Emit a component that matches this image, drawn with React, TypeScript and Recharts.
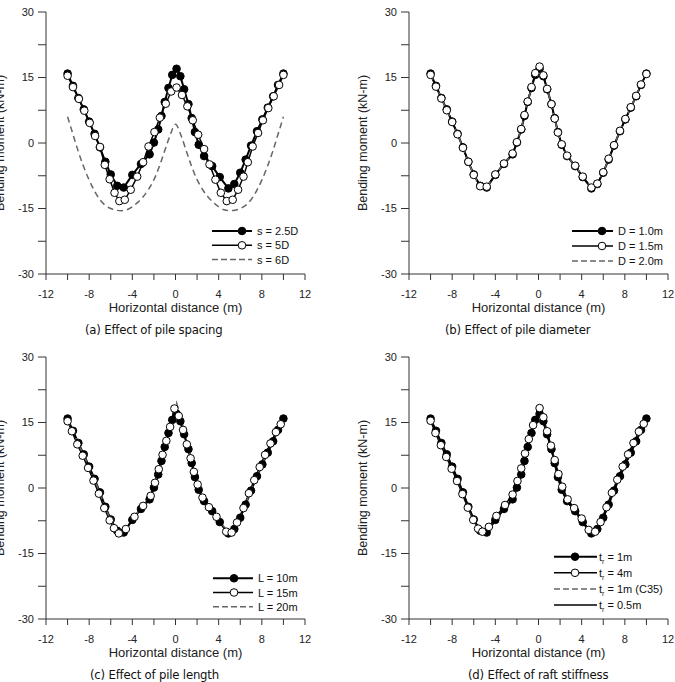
import React from "react";
import { LineChart, Line, XAxis, YAxis } from "recharts";

const FONT = '"Liberation Sans", Arial, sans-serif';
const CAPTION_FONT = '"Liberation Sans Narrow", "DejaVu Sans Condensed", "Liberation Sans", sans-serif';

const X_TICKS = [-12, -10, -8, -6, -4, -2, 0, 2, 4, 6, 8, 10, 12];
const Y_TICKS = [-30, -22.5, -15, -7.5, 0, 7.5, 15, 22.5, 30];

// reference case (s = 2.5D, D = 1.0m, L = 10m, t_r = 1m)
const BASE_X = [-10, -9.5, -9, -8.5, -8, -7.5, -7, -6.5, -6, -5.4, -4.8, -4, -3.2, -2.4, -2, -1.6, -1.3, -1, -0.65, -0.3, 0.1, 0.45, 0.8, 1.2, 1.5, 1.8, 2.15, 2.65, 3.4, 4.1, 4.9, 5.45, 6, 6.5, 7, 7.55, 8.05, 8.55, 9.05, 9.5, 10];
const BASE_M = [15.9, 13.1, 10.3, 7.7, 4.9, 2.1, -1.0, -4.3, -7.2, -9.8, -10.2, -7.3, -4.8, -2.6, 0.1, 3.1, 6.2, 9.4, 12.6, 15.6, 17.0, 15.3, 12.3, 8.9, 5.7, 2.5, -0.4, -3.0, -5.3, -7.8, -10.4, -9.4, -6.8, -3.8, -0.6, 2.7, 5.4, 8.1, 10.7, 13.3, 15.9];

// (a) pile spacing
const S5_X = [-10, -9.5, -8.95, -8.45, -7.95, -7.45, -7.0, -6.55, -6.1, -5.65, -5.2, -4.7, -4.15, -3.55, -3.0, -2.5, -1.95, -1.45, -0.9, -0.4, 0.1, 0.6, 1.1, 1.6, 2.1, 2.65, 3.15, 3.7, 4.2, 4.75, 5.3, 5.8, 6.3, 6.7, 7.15, 7.65, 8.1, 8.6, 9.1, 9.6, 10];
const S5_M = [15.4, 12.8, 10.1, 7.4, 4.6, 1.6, -0.9, -5.0, -8.3, -11.4, -13.3, -13.0, -10.7, -7.7, -4.4, -0.8, 2.5, 5.8, 9.0, 11.8, 12.7, 11.0, 8.4, 5.2, 1.9, -1.4, -4.9, -8.4, -11.4, -13.3, -13.0, -10.7, -7.7, -4.4, -0.8, 2.3, 5.2, 8.0, 10.7, 13.3, 15.6];
const S6_X = [-10, -9.5, -9, -8.5, -8, -7.5, -7, -6.5, -6, -5.5, -5, -4.5, -4, -3.5, -3, -2.5, -2, -1.5, -1, -0.5, 0, 0.5, 1, 1.5, 2, 2.5, 3, 3.5, 4, 4.5, 5, 5.5, 6, 6.5, 7, 7.5, 8, 8.5, 9, 9.5, 10];
const S6_M = [6.0, 2.0, -2.0, -5.5, -8.5, -11.0, -13.0, -14.3, -15.0, -15.4, -15.5, -15.3, -14.6, -13.6, -12.3, -10.6, -8.4, -5.4, -1.8, 1.8, 4.3, 1.8, -1.8, -5.4, -8.4, -10.6, -12.3, -13.6, -14.6, -15.3, -15.5, -15.4, -15.0, -14.3, -13.0, -11.0, -8.5, -5.5, -2.0, 2.0, 6.0];

// (b) pile diameter
const D15_M = [15.6, 12.9, 10.2, 7.5, 4.8, 2.0, -1.1, -4.3, -7.3, -9.9, -10.0, -7.2, -4.7, -2.4, 0.2, 3.2, 6.4, 9.5, 12.8, 16.0, 17.5, 15.5, 12.4, 8.9, 5.6, 2.4, -0.3, -2.9, -5.2, -7.7, -10.2, -9.3, -6.7, -3.6, -0.5, 2.8, 5.5, 8.2, 10.8, 13.4, 15.8];
const D20_M = [15.8, 13.0, 10.2, 7.6, 4.8, 2.0, -1.1, -4.3, -7.3, -9.9, -10.1, -7.2, -4.7, -2.5, 0.2, 3.2, 6.3, 9.5, 12.7, 15.8, 17.3, 15.4, 12.4, 8.9, 5.6, 2.4, -0.4, -3.0, -5.2, -7.7, -10.3, -9.3, -6.7, -3.7, -0.5, 2.8, 5.5, 8.2, 10.8, 13.4, 15.9];

// (c) pile length
const L15_X = [-10, -9.6, -9.1, -8.6, -8.1, -7.6, -7.1, -6.6, -6.1, -5.7, -5.25, -4.6, -3.8, -3.0, -2.3, -1.9, -1.55, -1.2, -0.85, -0.5, -0.1, 0.3, 0.7, 1.05, 1.4, 1.7, 2.05, 2.5, 3.1, 3.8, 4.7, 5.2, 5.7, 6.3, 6.8, 7.3, 7.8, 8.3, 8.8, 9.3, 9.75];
const L15_M = [15.3, 13.0, 10.0, 7.4, 4.6, 1.7, -1.3, -4.6, -7.4, -9.2, -10.4, -9.4, -6.6, -4.1, -1.8, 1.2, 4.3, 7.6, 10.8, 14.0, 18.2, 16.5, 13.3, 10.0, 6.8, 3.7, 0.8, -2.2, -4.4, -6.6, -10.0, -10.2, -7.9, -4.6, -1.2, 1.8, 4.8, 7.6, 10.2, 12.8, 14.6];
const L20_M = [15.6, 12.9, 10.1, 7.5, 4.7, 1.9, -1.2, -4.5, -7.4, -9.9, -10.1, -7.1, -4.6, -2.3, 0.5, 3.6, 6.8, 10.0, 13.3, 16.6, 19.5, 16.5, 13.2, 9.6, 6.2, 3.0, 0.1, -2.6, -5.0, -7.6, -10.2, -9.3, -6.6, -3.6, -0.4, 2.9, 5.6, 8.3, 10.9, 13.5, 15.8];

// (d) raft stiffness
const T4_X = [-10, -9.55, -9.05, -8.55, -8.05, -7.55, -7.05, -6.55, -6.05, -5.6, -5.2, -4.6, -3.9, -3.1, -2.4, -1.95, -1.6, -1.25, -0.9, -0.5, 0.1, 0.45, 0.8, 1.15, 1.5, 1.85, 2.2, 2.7, 3.3, 4.0, 4.65, 5.25, 5.75, 6.3, 6.8, 7.3, 7.8, 8.3, 8.8, 9.3, 9.75];
const T4_M = [15.4, 12.6, 9.8, 7.1, 4.4, 1.6, -1.4, -4.5, -7.3, -9.3, -10.0, -8.9, -6.4, -3.9, -1.5, 1.6, 4.5, 7.9, 11.2, 14.4, 18.3, 16.2, 13.0, 9.7, 6.4, 3.2, 0.3, -2.6, -4.6, -7.0, -9.6, -10.0, -7.8, -4.4, -1.1, 1.9, 4.9, 7.7, 10.3, 12.9, 14.7];
const C35_M = [15.7, 12.9, 10.2, 7.6, 4.8, 2.0, -1.1, -4.4, -7.3, -9.9, -10.4, -7.4, -4.9, -2.6, 0.1, 3.1, 6.2, 9.4, 12.6, 15.5, 16.8, 15.1, 12.1, 8.8, 5.6, 2.4, -0.5, -3.1, -5.4, -7.9, -10.5, -9.5, -6.9, -3.9, -0.7, 2.6, 5.3, 8.0, 10.6, 13.2, 15.8];
const T05_M = [15.8, 13.0, 10.3, 7.6, 4.9, 2.0, -1.0, -4.2, -7.1, -9.7, -10.3, -7.4, -4.9, -2.7, 0.0, 3.0, 6.1, 9.3, 12.5, 15.4, 16.6, 15.0, 12.1, 8.8, 5.7, 2.5, -0.5, -3.1, -5.4, -7.9, -10.6, -9.5, -6.8, -3.8, -0.6, 2.7, 5.4, 8.1, 10.7, 13.3, 15.9];

const SPACING_LABELS = ["s = 2.5D", "s = 5D", "s = 6D"];
const DIAMETER_LABELS = ["D = 1.0m", "D = 1.5m", "D = 2.0m"];
const LENGTH_LABELS = ["L = 10m", "L = 15m", "L = 20m"];
const RAFT_LABELS = ["1m", "4m", "1m (C35)", "0.5m"];

// extra room left of the y axis so the rotated axis title is not clipped
const PAD = 20;
const W = 340 + PAD;
const H = 345;

type Kind = "filled" | "open" | "dashed" | "solid";
type Series = { label: React.ReactNode; kind: Kind; xs: number[]; ms: number[]; smooth?: boolean };
type LegendBox = { x0: number; x1: number; markerX: number; textX: number; y0: number; gap: number };

const toPoints = (xs: number[], ms: number[]) => xs.map((x, i) => ({ x, m: ms[i] }));

const raftLabel = (v: string) => (
  <>
    t<tspan fontSize={7} dy={3}>r</tspan>
    <tspan dy={-3}>{" = " + v}</tspan>
  </>
);

function seriesLine(s: Series, i: number) {
  const common = {
    key: i,
    data: toPoints(s.xs, s.ms),
    dataKey: "m",
    isAnimationActive: false,
    activeDot: false as const,
    type: (s.smooth ? "monotone" : "linear") as "monotone" | "linear",
  };
  if (s.kind === "filled")
    return <Line {...common} stroke="#000" strokeWidth={2} dot={{ r: 3.8, fill: "#000", stroke: "#000", strokeWidth: 1 }} />;
  if (s.kind === "open")
    return <Line {...common} stroke="#000" strokeWidth={1.5} dot={{ r: 3.8, fill: "#fff", stroke: "#000", strokeWidth: 1 }} />;
  if (s.kind === "dashed")
    return <Line {...common} stroke="#666" strokeWidth={1.5} strokeDasharray="6 4" dot={false} />;
  return <Line {...common} stroke="#000" strokeWidth={1.4} dot={false} />;
}

function Legend({ series, box }: { series: Series[]; box: LegendBox }) {
  return (
    <svg width={W} height={H} style={{ position: "absolute", left: 0, top: 0, pointerEvents: "none" }}>
      <g transform={`translate(${PAD},0)`}>
        {series.map((s, i) => {
          const y = box.y0 + i * box.gap;
          const dashed = s.kind === "dashed";
          return (
            <g key={i}>
              <line
                x1={box.x0}
                x2={box.x1}
                y1={y}
                y2={y}
                stroke={dashed ? "#666" : "#000"}
                strokeWidth={s.kind === "filled" ? 2 : 1.5}
                strokeDasharray={dashed ? "6 3" : undefined}
              />
              {(s.kind === "filled" || s.kind === "open") && (
                <circle cx={box.markerX} cy={y} r={3.8} fill={s.kind === "filled" ? "#000" : "#fff"} stroke="#000" strokeWidth={1} />
              )}
              <text x={box.textX} y={y + 4} fontSize={11} fontFamily={FONT} fill="#111">
                {s.label}
              </text>
            </g>
          );
        })}
      </g>
    </svg>
  );
}

function Panel(props: { left: number; top: number; caption: string; captionX: number; series: Series[]; legend: LegendBox }) {
  const { left, top, caption, captionX, series, legend } = props;
  const tick = { fontSize: 11, fill: "#222", fontFamily: FONT };
  return (
    <div style={{ position: "absolute", left: left - PAD, top, width: W, height: H }}>
      <LineChart width={W} height={H} margin={{ top: 12, right: 35, bottom: 31, left: PAD }}>
        <XAxis
          dataKey="x"
          type="number"
          domain={[-12, 12]}
          ticks={X_TICKS}
          interval={0}
          allowDataOverflow
          height={40}
          tickSize={6}
          tickMargin={10}
          stroke="#333"
          tick={tick}
          tickFormatter={(v: number) => (v % 4 === 0 ? String(v) : "")}
          label={{ value: "Horizontal distance (m)", position: "insideBottom", offset: 2, fontSize: 13, fill: "#222", fontFamily: FONT }}
        />
        <YAxis
          type="number"
          domain={[-30, 30]}
          ticks={Y_TICKS}
          interval={0}
          allowDataOverflow
          width={46}
          tickSize={8}
          tickMargin={4}
          stroke="#333"
          tick={tick}
          tickFormatter={(v: number) => (v % 15 === 0 ? String(v) : "")}
          label={{
            value: "Bending moment (kN-m)",
            angle: -90,
            position: "insideLeft",
            offset: 0,
            style: { textAnchor: "middle" },
            fontSize: 12.5,
            fill: "#222",
            fontFamily: FONT,
          }}
        />
        <XAxis xAxisId="top" orientation="top" type="number" domain={[-12, 12]} height={0} tick={false} tickLine={false} stroke="#999" />
        <YAxis yAxisId="right" orientation="right" type="number" domain={[-30, 30]} width={0} tick={false} tickLine={false} stroke="#999" />
        {series.map(seriesLine)}
      </LineChart>
      <Legend series={series} box={legend} />
      <div
        style={{
          position: "absolute",
          left: PAD + captionX,
          top: 322,
          fontFamily: CAPTION_FONT,
          fontSize: 13,
          lineHeight: "16px",
          wordSpacing: 0,
          letterSpacing: -0.2,
          whiteSpace: "nowrap",
          color: "#111",
        }}
      >
        {caption}
      </div>
    </div>
  );
}

const spacingSeries: Series[] = [
  { label: SPACING_LABELS[0], kind: "filled", xs: BASE_X, ms: BASE_M },
  { label: SPACING_LABELS[1], kind: "open", xs: S5_X, ms: S5_M },
  { label: SPACING_LABELS[2], kind: "dashed", xs: S6_X, ms: S6_M, smooth: true },
];
const diameterSeries: Series[] = [
  { label: DIAMETER_LABELS[0], kind: "filled", xs: BASE_X, ms: BASE_M },
  { label: DIAMETER_LABELS[1], kind: "open", xs: BASE_X, ms: D15_M },
  { label: DIAMETER_LABELS[2], kind: "dashed", xs: BASE_X, ms: D20_M },
];
const lengthSeries: Series[] = [
  { label: LENGTH_LABELS[0], kind: "filled", xs: BASE_X, ms: BASE_M },
  { label: LENGTH_LABELS[1], kind: "open", xs: L15_X, ms: L15_M },
  { label: LENGTH_LABELS[2], kind: "dashed", xs: BASE_X, ms: L20_M },
];
const raftSeries: Series[] = [
  { label: raftLabel(RAFT_LABELS[0]), kind: "filled", xs: BASE_X, ms: BASE_M },
  { label: raftLabel(RAFT_LABELS[1]), kind: "open", xs: T4_X, ms: T4_M },
  { label: raftLabel(RAFT_LABELS[2]), kind: "dashed", xs: BASE_X, ms: C35_M },
  { label: raftLabel(RAFT_LABELS[3]), kind: "solid", xs: BASE_X, ms: T05_M },
];

export default function App() {
  return (
    <div style={{ position: "absolute", left: 0, top: 0, width: 675, height: 682, overflow: "hidden", background: "#fff" }}>
      <Panel
        left={0}
        top={0}
        caption="(a) Effect of pile spacing"
        captionX={85}
        series={spacingSeries}
        legend={{ x0: 212, x1: 252, markerX: 242, textX: 257, y0: 231, gap: 14.3 }}
      />
      <Panel
        left={363}
        top={0}
        caption="(b) Effect of pile diameter"
        captionX={82}
        series={diameterSeries}
        legend={{ x0: 209, x1: 250, markerX: 239, textX: 255, y0: 231, gap: 15 }}
      />
      <Panel
        left={0}
        top={345}
        caption="(c) Effect of pile length"
        captionX={90}
        series={lengthSeries}
        legend={{ x0: 213, x1: 253, markerX: 234, textX: 258, y0: 233.3, gap: 14.2 }}
      />
      <Panel
        left={363}
        top={345}
        caption="(d) Effect of raft stiffness"
        captionX={105}
        series={raftSeries}
        legend={{ x0: 191, x1: 234, markerX: 212, textX: 236, y0: 211.7, gap: 16.1 }}
      />
    </div>
  );
}
